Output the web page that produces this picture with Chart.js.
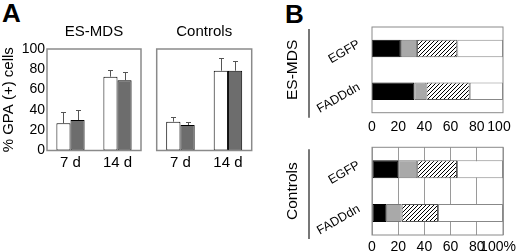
<!DOCTYPE html>
<html><head><meta charset="utf-8">
<script src="https://cdn.jsdelivr.net/npm/chart.js@4.4.1/dist/chart.umd.min.js"></script>
<style>
html,body{margin:0;padding:0;background:#fff;overflow:hidden;width:520px;height:252px;position:relative}
canvas{position:absolute}
.lbl{position:absolute;font:bold 26px "Liberation Sans",Arial,sans-serif;color:#000;line-height:1}
</style></head><body>
<div class="lbl" style="left:2px;top:0px">A</div>
<div class="lbl" style="left:285px;top:1px">B</div>
<canvas id="a1" width="150" height="172" style="left:0;top:0;width:150px;height:172px"></canvas>
<canvas id="a2" width="110" height="172" style="left:150px;top:0;width:110px;height:172px"></canvas>
<canvas id="b1" width="237" height="118" style="left:283px;top:20px;width:237px;height:118px"></canvas>
<canvas id="b2" width="237" height="120" style="left:283px;top:140px;width:237px;height:120px"></canvas>
<script>
// ---- Panel A data ----
const dayLabels = ['7 d', '14 d'];
const yTicksA = [0, 20, 40, 60, 80, 100];
const esmdsWhite = [26.8, 72.7];
const esmdsWhiteErr = [11.4, 6.6];
const esmdsDark = [30.0, 69.2];
const esmdsDarkErr = [10.2, 7.8];
const ctrlWhite = [28.4, 78.6];
const ctrlWhiteErr = [4.9, 12.2];
const ctrlDark = [25.1, 78.6];
const ctrlDarkErr = [3.3, 9.6];

// ---- Panel B data ----
const constructs = ['EGFP', 'FADDdn'];
const xTicksB = [0, 20, 40, 60, 80, 100];
const xTickLabelsTop = ['0', '20', '40', '60', '80', '100'];
const xTickLabelsBottom = ['0', '20', '40', '60', '80', '100%'];
const esBlack = [22.0, 32.3];
const esGray = [12.4, 9.2];
const esHatch = [30.7, 33.1];
const esWhite = [34.9, 25.4];
const ctBlack = [20.0, 11.2];
const ctGray = [14.5, 11.4];
const ctHatch = [30.4, 27.8];
const ctWhite = [35.1, 49.6];

const FONT = '"Liberation Sans", Arial, Helvetica, sans-serif';
Chart.defaults.font.family = FONT;
Chart.defaults.color = '#000';

function hatchPattern() {
  const s = 4;
  const c = document.createElement('canvas');
  c.width = s; c.height = s;
  const g = c.getContext('2d');
  g.fillStyle = '#fff'; g.fillRect(0, 0, s, s);
  g.strokeStyle = '#000'; g.lineWidth = 1;
  g.beginPath();
  g.moveTo(0, s); g.lineTo(s, 0);
  g.moveTo(-1, 1); g.lineTo(1, -1);
  g.moveTo(s - 1, s + 1); g.lineTo(s + 1, s - 1);
  g.stroke();
  return g.createPattern(c, 'repeat');
}

function noPad(s) { s.paddingTop = 0; s.paddingBottom = 0; s.paddingLeft = 0; s.paddingRight = 0; }

const framePlugin = {
  id: 'frame',
  beforeDraw(chart, args, opts) {
    // nudge the last x tick label inward so it stays inside the figure
    if (opts.lastLabelShift) {
      const items = chart.scales.x.getLabelItems();
      const last = items[items.length - 1];
      if (last && !last._shifted) { last.options.translation[0] += opts.lastLabelShift; last._shifted = true; }
    }
  },
  afterDraw(chart, args, opts) {
    const a = chart.chartArea, ctx = chart.ctx;
    ctx.save();
    ctx.strokeStyle = opts.color || '#888';
    ctx.lineWidth = opts.width || 1;
    ctx.strokeRect(a.left, a.top, a.right - a.left, a.bottom - a.top);
    if (opts.sideLine) {
      ctx.strokeStyle = '#777';
      ctx.lineWidth = 2;
      ctx.beginPath();
      const x = a.left - opts.sideLine.dx;
      ctx.moveTo(x, a.top + opts.sideLine.top);
      ctx.lineTo(x, a.bottom + opts.sideLine.bottom);
      ctx.stroke();
    }
    ctx.restore();
  }
};

const errorPlugin = {
  id: 'errbars',
  afterDatasetsDraw(chart) {
    const ctx = chart.ctx, ys = chart.scales.y;
    ctx.save();
    ctx.strokeStyle = '#555';
    ctx.lineWidth = 1;
    chart.data.datasets.forEach((ds, i) => {
      if (!ds.errors) return;
      chart.getDatasetMeta(i).data.forEach((el, j) => {
        const top = Math.round(ys.getPixelForValue(ds.data[j] + ds.errors[j])) + 0.5;
        const x = Math.round(el.x) + 0.5;
        ctx.beginPath();
        ctx.moveTo(x, el.y);
        ctx.lineTo(x, top);
        ctx.moveTo(x - 2.5, top);
        ctx.lineTo(x + 2.5, top);
        ctx.stroke();
      });
    });
    ctx.restore();
  }
};

function panelA(id, title, white, whiteErr, dark, darkErr, showY, padL, padR) {
  const barBase = {borderColor: '#000', borderWidth: 1, borderSkipped: false, categoryPercentage: 0.6, barPercentage: 1};
  return new Chart(document.getElementById(id), {
    type: 'bar',
    data: {
      labels: dayLabels,
      datasets: [
        Object.assign({data: white, errors: whiteErr, backgroundColor: '#fff'}, barBase),
        Object.assign({data: dark, errors: darkErr, backgroundColor: '#6d6d6d'}, barBase)
      ]
    },
    plugins: [framePlugin, errorPlugin],
    options: {
      responsive: false, maintainAspectRatio: false, animation: false, events: [],
      layout: {padding: {left: padL, right: padR, top: 23, bottom: 0}},
      plugins: {
        legend: {display: false}, tooltip: {enabled: false},
        title: {display: true, text: title, fullSize: false, color: '#000',
          font: {family: FONT, size: 15, weight: 'normal'}, padding: {top: 0, bottom: 8}},
        frame: {color: '#8a8a8a', width: 1.5}
      },
      scales: {
        x: {
          grid: {display: false, drawTicks: false}, border: {display: false},
          ticks: {color: '#000', font: {family: FONT, size: 15}, padding: 3, maxRotation: 0, autoSkip: false},
          afterFit: s => { s.height = 21.5; noPad(s); }
        },
        y: {
          display: showY, min: 0, max: 100,
          afterBuildTicks: s => { s.ticks = yTicksA.map(v => ({value: v})); },
          grid: {display: false, drawTicks: false}, border: {display: false},
          ticks: {color: '#000', font: {family: FONT, size: 14}, padding: 2},
          title: {display: true, text: '% GPA (+) cells', color: '#000', font: {family: FONT, size: 15}, padding: 0},
          afterFit: s => { s.width = showY ? 47 : 0; noPad(s); }
        }
      }
    }
  });
}

panelA('a1', 'ES-MDS', esmdsWhite, esmdsWhiteErr, esmdsDark, esmdsDarkErr, true, 0, 9);
panelA('a2', 'Controls', ctrlWhite, ctrlWhiteErr, ctrlDark, ctrlDarkErr, false, 6.7, 8.3);

function panelB(id, title, black, gray, hatch, white, tickLabels, showGrid, padTop, xH, tickPad, side, lastShift) {
  const base = {borderWidth: 1, borderSkipped: false, categoryPercentage: 0.41, barPercentage: 1};
  return new Chart(document.getElementById(id), {
    type: 'bar',
    data: {
      labels: constructs,
      datasets: [
        Object.assign({data: black, backgroundColor: '#000', borderColor: '#000'}, base),
        Object.assign({data: gray, backgroundColor: '#a9a9a9', borderColor: '#777'}, base),
        Object.assign({data: hatch, backgroundColor: hatchPattern(), borderColor: '#555'}, base),
        Object.assign({data: white, backgroundColor: '#fff', borderColor: '#888'}, base)
      ]
    },
    plugins: [framePlugin],
    options: {
      indexAxis: 'y',
      responsive: false, maintainAspectRatio: false, animation: false, events: [],
      layout: {padding: {left: 0, right: 17, top: padTop, bottom: 0}},
      plugins: {
        legend: {display: false}, tooltip: {enabled: false},
        frame: {color: '#8a8a8a', width: 1, sideLine: side, lastLabelShift: lastShift}
      },
      scales: {
        x: {
          stacked: true, min: 0, max: 100,
          afterBuildTicks: s => { s.ticks = xTicksB.map(v => ({value: v})); },
          grid: {display: showGrid, drawTicks: false, color: '#9a9a9a', lineWidth: 1},
          border: {display: false},
          ticks: {color: '#000', font: {family: FONT, size: 14}, padding: tickPad, maxRotation: 0, autoSkip: false,
            callback: (v, i) => tickLabels[i]},
          afterFit: s => { s.height = xH; noPad(s); }
        },
        y: {
          stacked: true,
          grid: {display: false, drawTicks: false}, border: {display: false},
          ticks: {color: '#000', font: {family: FONT, size: 12.5}, padding: 13, labelOffset: -5,
            minRotation: 30, maxRotation: 30},
          title: {display: true, text: title, color: '#000', font: {family: FONT, size: 15.5}, padding: 0},
          afterFit: s => { s.width = 89; noPad(s); }
        }
      }
    }
  });
}

panelB('b1', 'ES-MDS', esBlack, esGray, esHatch, esWhite, xTickLabelsTop, false, 7, 25.3, 6, {dx: 63, top: 2, bottom: 5}, -4);
panelB('b2', 'Controls', ctBlack, ctGray, ctHatch, ctWhite, xTickLabelsBottom, true, 7.3, 25, 4, {dx: 63, top: 2, bottom: 4}, -5);
</script>
</body></html>
